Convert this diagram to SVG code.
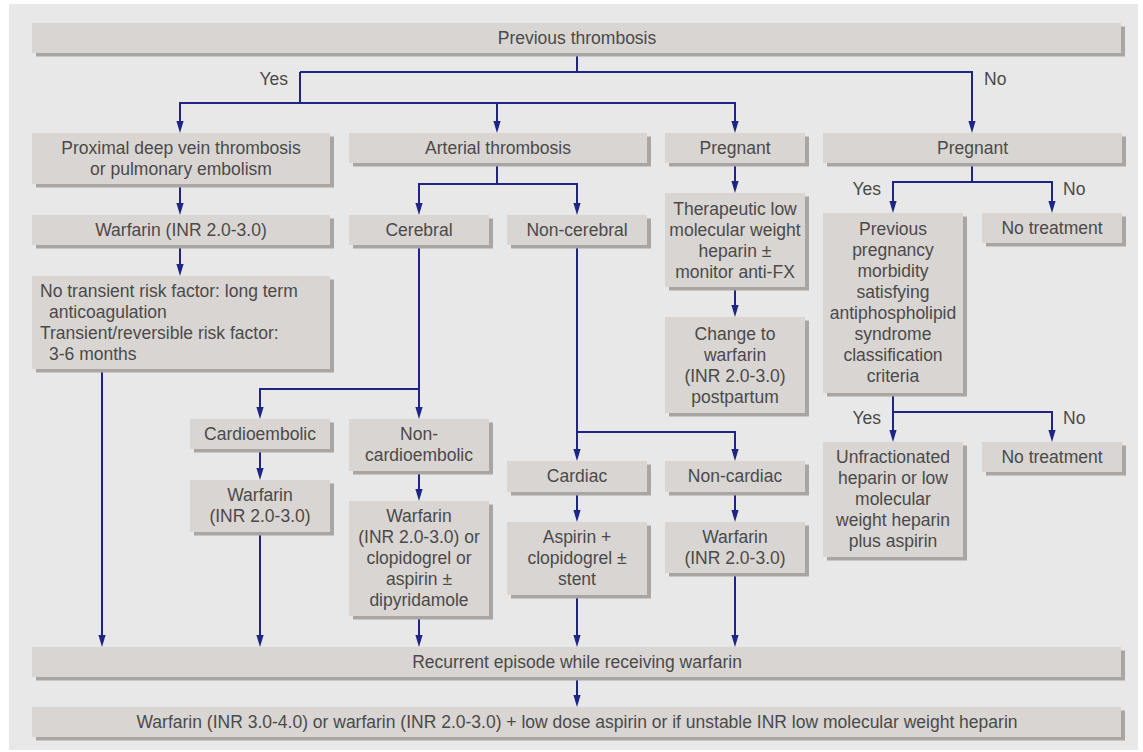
<svg xmlns="http://www.w3.org/2000/svg" width="1143" height="752" viewBox="0 0 1143 752">
<defs>
<style>
.bx{fill:#d9d5d2}
.sh{fill:#a9a5a3}
text{font-family:"Liberation Sans",Arial,sans-serif;font-size:17.5px;fill:#4a4a4a}
.c{text-anchor:middle}
.e{text-anchor:end}
.ln{fill:none;stroke:#1f2585;stroke-width:2}
.ar{marker-end:url(#ah)}
</style>
<marker id="ah" viewBox="0 0 12 8" refX="8" refY="4" markerWidth="12" markerHeight="8" markerUnits="userSpaceOnUse" orient="auto">
<path d="M0,0.4 L12,4 L0,7.6 z" fill="#1f2585"/>
</marker>
</defs>
<rect x="0" y="0" width="1143" height="752" fill="#ffffff"/>
<rect x="9" y="4" width="1129" height="746" fill="#e8e8e8"/>

<g id="connectors">
<path class="ln" d="M577,53 V72"/>
<path class="ln ar" d="M300,72 V103 H180 V129"/>
<path class="ln ar" d="M300,103 H735 V129"/>
<path class="ln ar" d="M497,103 V129"/>
<path class="ln ar" d="M300,72 H972 V129"/>
<path class="ln ar" d="M180,184 V211"/>
<path class="ln ar" d="M180,245 V272"/>
<path class="ln ar" d="M102,369 V643"/>
<path class="ln ar" d="M497,163 V184 H419 V211"/>
<path class="ln ar" d="M497,184 H577 V211"/>
<path class="ln ar" d="M419,245 V415"/>
<path class="ln ar" d="M419,389 H260 V415"/>
<path class="ln ar" d="M260,449 V476"/>
<path class="ln ar" d="M260,532 V643"/>
<path class="ln ar" d="M419,471 V497"/>
<path class="ln ar" d="M419,616 V643"/>
<path class="ln ar" d="M577,245 V457"/>
<path class="ln ar" d="M577,432 H735 V457"/>
<path class="ln ar" d="M577,492 V518"/>
<path class="ln ar" d="M577,595 V643"/>
<path class="ln ar" d="M735,492 V518"/>
<path class="ln ar" d="M735,573 V643"/>
<path class="ln ar" d="M735,163 V189"/>
<path class="ln ar" d="M735,287 V313"/>
<path class="ln ar" d="M972,163 V182 H893 V209"/>
<path class="ln ar" d="M972,182 H1052 V209"/>
<path class="ln ar" d="M893,393 V412 H1052 V438"/>
<path class="ln ar" d="M893,412 V438"/>
<path class="ln ar" d="M577,677 V703"/>
<text class="e" x="288" y="85">Yes</text>
<text x="984" y="85">No</text>
<text class="e" x="881" y="195">Yes</text>
<text x="1063" y="195">No</text>
<text class="e" x="881" y="424">Yes</text>
<text x="1063" y="424">No</text>
</g>

<g id="n-top"><rect class="sh" x="36" y="26.5" width="1089" height="30"/><rect class="bx" x="32" y="23" width="1089" height="30"/><text class="c" x="577" y="44">Previous thrombosis</text></g>
<g id="n-pdvt"><rect class="sh" x="36" y="136.5" width="298" height="51"/><rect class="bx" x="32" y="133" width="298" height="51"/><text class="c" x="181" y="154">Proximal deep vein thrombosis</text><text class="c" x="181" y="175">or pulmonary embolism</text></g>
<g id="n-arterial"><rect class="sh" x="353" y="136.5" width="298" height="30"/><rect class="bx" x="349" y="133" width="298" height="30"/><text class="c" x="498" y="154">Arterial thrombosis</text></g>
<g id="n-pregA"><rect class="sh" x="669" y="136.5" width="140" height="30"/><rect class="bx" x="665" y="133" width="140" height="30"/><text class="c" x="735" y="154">Pregnant</text></g>
<g id="n-pregB"><rect class="sh" x="827" y="136.5" width="299" height="30"/><rect class="bx" x="823" y="133" width="299" height="30"/><text class="c" x="972.5" y="154">Pregnant</text></g>
<g id="n-warf1"><rect class="sh" x="36" y="218.5" width="298" height="30"/><rect class="bx" x="32" y="215" width="298" height="30"/><text class="c" x="181" y="236">Warfarin (INR 2.0-3.0)</text></g>
<g id="n-notrans"><rect class="sh" x="36" y="279.5" width="298" height="93"/><rect class="bx" x="32" y="276" width="298" height="93"/><text x="40" y="297">No transient risk factor: long term</text><text x="49" y="318">anticoagulation</text><text x="40" y="339">Transient/reversible risk factor:</text><text x="49" y="360">3-6 months</text></g>
<g id="n-cerebral"><rect class="sh" x="353" y="218.5" width="140" height="30"/><rect class="bx" x="349" y="215" width="140" height="30"/><text class="c" x="419" y="236">Cerebral</text></g>
<g id="n-noncereb"><rect class="sh" x="511" y="218.5" width="140" height="30"/><rect class="bx" x="507" y="215" width="140" height="30"/><text class="c" x="577" y="236">Non-cerebral</text></g>
<g id="n-therap"><rect class="sh" x="669" y="196.5" width="140" height="94"/><rect class="bx" x="665" y="193" width="140" height="94"/><text class="c" x="735" y="215">Therapeutic low</text><text class="c" x="735" y="236">molecular weight</text><text class="c" x="735" y="257">heparin ±</text><text class="c" x="735" y="278">monitor anti-FX</text></g>
<g id="n-change"><rect class="sh" x="669" y="320.5" width="140" height="96"/><rect class="bx" x="665" y="317" width="140" height="96"/><text class="c" x="735" y="340">Change to</text><text class="c" x="735" y="361">warfarin</text><text class="c" x="735" y="382">(INR 2.0-3.0)</text><text class="c" x="735" y="403">postpartum</text></g>
<g id="n-prevpreg"><rect class="sh" x="827" y="216.5" width="140" height="180"/><rect class="bx" x="823" y="213" width="140" height="180"/><text class="c" x="893" y="235">Previous</text><text class="c" x="893" y="256">pregnancy</text><text class="c" x="893" y="277">morbidity</text><text class="c" x="893" y="298">satisfying</text><text class="c" x="893" y="319">antiphospholipid</text><text class="c" x="893" y="340">syndrome</text><text class="c" x="893" y="361">classification</text><text class="c" x="893" y="382">criteria</text></g>
<g id="n-notreat1"><rect class="sh" x="986" y="216.5" width="140" height="30"/><rect class="bx" x="982" y="213" width="140" height="30"/><text class="c" x="1052" y="234">No treatment</text></g>
<g id="n-cardioemb"><rect class="sh" x="194" y="422.5" width="140" height="30"/><rect class="bx" x="190" y="419" width="140" height="30"/><text class="c" x="260" y="440">Cardioembolic</text></g>
<g id="n-noncardioemb"><rect class="sh" x="353" y="422.5" width="140" height="52"/><rect class="bx" x="349" y="419" width="140" height="52"/><text class="c" x="419" y="440">Non-</text><text class="c" x="419" y="461">cardioembolic</text></g>
<g id="n-warf2"><rect class="sh" x="194" y="483.5" width="140" height="52"/><rect class="bx" x="190" y="480" width="140" height="52"/><text class="c" x="260" y="501">Warfarin</text><text class="c" x="260" y="522">(INR 2.0-3.0)</text></g>
<g id="n-warfclop"><rect class="sh" x="353" y="504.5" width="140" height="115"/><rect class="bx" x="349" y="501" width="140" height="115"/><text class="c" x="419" y="522">Warfarin</text><text class="c" x="419" y="543">(INR 2.0-3.0) or</text><text class="c" x="419" y="564">clopidogrel or</text><text class="c" x="419" y="585">aspirin ±</text><text class="c" x="419" y="606">dipyridamole</text></g>
<g id="n-cardiac"><rect class="sh" x="511" y="464.5" width="140" height="31"/><rect class="bx" x="507" y="461" width="140" height="31"/><text class="c" x="577" y="482">Cardiac</text></g>
<g id="n-noncardiac"><rect class="sh" x="669" y="464.5" width="140" height="31"/><rect class="bx" x="665" y="461" width="140" height="31"/><text class="c" x="735" y="482">Non-cardiac</text></g>
<g id="n-aspirin"><rect class="sh" x="511" y="525.5" width="140" height="73"/><rect class="bx" x="507" y="522" width="140" height="73"/><text class="c" x="577" y="543">Aspirin +</text><text class="c" x="577" y="564">clopidogrel ±</text><text class="c" x="577" y="585">stent</text></g>
<g id="n-warf3"><rect class="sh" x="669" y="525.5" width="140" height="51"/><rect class="bx" x="665" y="522" width="140" height="51"/><text class="c" x="735" y="543">Warfarin</text><text class="c" x="735" y="564">(INR 2.0-3.0)</text></g>
<g id="n-unfrac"><rect class="sh" x="827" y="445.5" width="140" height="115"/><rect class="bx" x="823" y="442" width="140" height="115"/><text class="c" x="893" y="463">Unfractionated</text><text class="c" x="893" y="484">heparin or low</text><text class="c" x="893" y="505">molecular</text><text class="c" x="893" y="526">weight heparin</text><text class="c" x="893" y="547">plus aspirin</text></g>
<g id="n-notreat2"><rect class="sh" x="986" y="445.5" width="140" height="30"/><rect class="bx" x="982" y="442" width="140" height="30"/><text class="c" x="1052" y="463">No treatment</text></g>
<g id="n-recurrent"><rect class="sh" x="36" y="650.5" width="1089" height="30"/><rect class="bx" x="32" y="647" width="1089" height="30"/><text class="c" x="577" y="668">Recurrent episode while receiving warfarin</text></g>
<g id="n-final"><rect class="sh" x="36" y="710.5" width="1089" height="30"/><rect class="bx" x="32" y="707" width="1089" height="30"/><text class="c" x="577" y="728">Warfarin (INR 3.0-4.0) or warfarin (INR 2.0-3.0) + low dose aspirin or if unstable INR low molecular weight heparin</text></g>
</svg>
